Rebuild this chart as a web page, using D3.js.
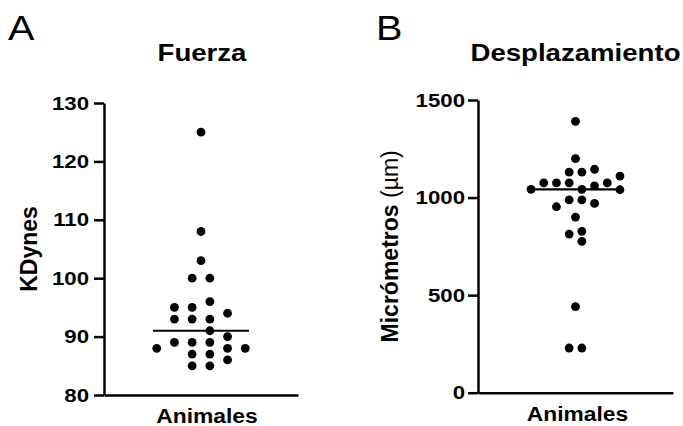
<!DOCTYPE html>
<html>
<head>
<meta charset="utf-8">
<script src="https://cdn.jsdelivr.net/npm/d3@7"></script>
<style>
  body { margin: 0; background: #fff; }
  svg { display: block; }
  text { font-family: "Liberation Sans", Arial, sans-serif; fill: #000; }
</style>
</head>
<body>
<div id="chart-area"></div>
<script>
// Data (one value per animal)
var fuerza = [125, 108, 103, 100, 100, 96, 95, 93, 94, 95, 93, 93, 91,
              89, 89, 88, 89, 90, 88, 88, 87, 87, 86, 85, 85];
var desplazamiento = [1390, 1200, 1130, 1130, 1145, 1042, 1075, 1060, 1075, 1075, 1075,
                      1040, 1042, 1110, 988, 988, 970, 953, 900, 827, 813, 776, 441, 229, 229];
var categorias = ["Animales"];
var fuerzaTicks = [80, 90, 100, 110, 120, 130];
var despTicks = [0, 500, 1000, 1500];

var W = 683, H = 426;
var sx = 1.17; // figure text is a bit wider than plain Arial

var svg = d3.select("#chart-area")
    .append("svg")
    .attr("width", W)
    .attr("height", H);

// simple swarm: isolated points in the middle, the rest on odd half-slots
function swarm(vals, y, D) {
    var placed = [];
    vals.forEach(function(v, i) {
        var py = y(v);
        var alone = vals.every(function(w, j) { return j === i || Math.abs(y(w) - py) >= D; });
        var k = 0;
        var hit = function(c) {
            return placed.some(function(p) { return Math.abs(p.y - py) < D && Math.abs(p.k - c) < 2; });
        };
        if (!alone) {
            for (var s = 1; s < 40; s += 2) {
                if (!hit(s)) { k = s; break; }
                if (!hit(-s)) { k = -s; break; }
            }
        }
        placed.push({ v: v, y: py, k: k });
    });
    return placed;
}

function panel(opt) {
    var g = svg.append("g")
        .attr("transform", "translate(" + opt.left + "," + opt.top + ")");

    var y = d3.scaleLinear().domain(opt.domain).range([opt.height, 0]);
    var x = d3.scaleBand().domain(categorias).range([0, opt.width]);
    var cx = x("Animales") + x.bandwidth() / 2;

    // Y axis
    var yAxis = g.append("g")
        .call(d3.axisLeft(y).tickValues(opt.ticks).tickFormat(d3.format("d"))
            .tickSize(10).tickSizeOuter(0).tickPadding(3));
    yAxis.select(".domain").attr("stroke-width", 2.5);
    yAxis.selectAll(".tick line").attr("stroke-width", 2.5);
    yAxis.selectAll(".tick text")
        .attr("x", opt.labelX / sx)
        .attr("transform", "scale(" + sx + ",1)")
        .attr("font-size", "19px")
        .attr("font-weight", "bold");

    // X axis
    var xAxis = g.append("g")
        .attr("transform", "translate(0," + opt.height + ")")
        .call(d3.axisBottom(x).tickSize(0).tickSizeOuter(0).tickPadding(0));
    xAxis.select(".domain").attr("stroke-width", 2.5);
    xAxis.selectAll(".tick text")
        .attr("y", 0)
        .attr("dy", 0)
        .attr("transform", "translate(" + opt.xLabelDx + ",28) scale(" + sx + ",1)")
        .attr("font-size", "19.5px")
        .attr("font-weight", "bold");

    // dots
    var pts = swarm(opt.values, y, 9);
    g.selectAll("circle.dot")
        .data(pts)
        .enter().append("circle")
        .attr("class", "dot")
        .attr("cx", function(d) { return cx + d.k * opt.half; })
        .attr("cy", function(d) { return d.y; })
        .attr("r", 4.4)
        .attr("fill", "#000");

    // median line
    var med = d3.median(opt.values);
    g.append("line")
        .attr("x1", cx - opt.medHalf)
        .attr("x2", cx + opt.medHalf)
        .attr("y1", y(med))
        .attr("y2", y(med))
        .attr("stroke", "#000")
        .attr("stroke-width", 2.2);

    // title
    g.append("text")
        .attr("transform", "translate(" + (cx + opt.titleDx) + "," + (61 - opt.top) + ") scale(1.2,1)")
        .attr("text-anchor", "middle")
        .attr("font-size", "23px")
        .attr("font-weight", "bold")
        .text(opt.title);

    // panel letter
    svg.append("text")
        .attr("transform", "translate(" + opt.letterX + ",40) scale(1.1,1)")
        .attr("font-size", "36px")
        .text(opt.letter);

    // y label
    var yl = g.append("text")
        .attr("transform", "translate(" + opt.yLabelX + "," + (opt.height / 2) + ") rotate(-90)")
        .attr("text-anchor", "middle")
        .attr("font-size", "23px")
        .attr("font-weight", "bold");
    yl.append("tspan").text(opt.ylabel[0]);
    if (opt.ylabel[1]) {
        yl.append("tspan").attr("font-weight", "normal").text(opt.ylabel[1]);
    }
}

panel({
    left: 104, top: 103, width: 194, height: 292,
    domain: [80, 130], ticks: fuerzaTicks, values: fuerza,
    half: 8.85, medHalf: 48, labelX: -15, xLabelDx: 6, titleDx: 1,
    title: "Fuerza", letter: "A", letterX: 8,
    ylabel: ["KDynes"], yLabelX: 37 - 104
});

panel({
    left: 478, top: 100, width: 195, height: 292.7,
    domain: [0, 1500], ticks: despTicks, values: desplazamiento,
    half: 6.35, medHalf: 47, labelX: -13, xLabelDx: 2, titleDx: 0,
    title: "Desplazamiento", letter: "B", letterX: 376,
    ylabel: ["Micrómetros ", "(\u00b5m)"], yLabelX: 398 - 478
});
</script>
</body>
</html>
